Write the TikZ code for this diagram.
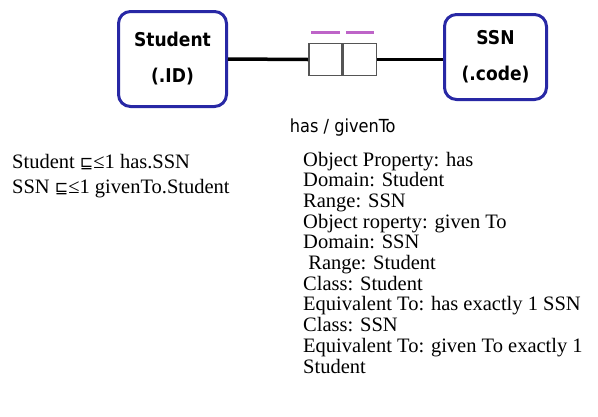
\documentclass[tikz,border=0pt]{standalone}
\usepackage{fontspec}
\setmainfont{Liberation Serif}
\newfontfamily\boxfont{DejaVu Sans Condensed}
\newfontfamily\symfont{DejaVu Sans}
\usetikzlibrary{positioning}
\definecolor{classblue}{RGB}{40,40,165}
\definecolor{rolegray}{RGB}{85,85,85}
\definecolor{markpink}{RGB}{190,100,200}
\newcommand{\subs}{{\symfont\fontsize{16}{16}\selectfont ⊑}}

\begin{document}
\begin{tikzpicture}[x=1pt, y=-1pt,
    classbox/.style={draw=classblue, line width=3pt, rounded corners=12pt, fill=white,
      align=center, inner sep=0pt, font=\boxfont\bfseries\fontsize{19}{36}\selectfont},
    rolebox/.style={draw=rolegray, line width=1.6pt, fill=white, minimum width=33pt,
      minimum height=32pt, inner sep=0pt},
    link/.style={line width=3.5pt},
    rolemark/.style={markpink, line width=3pt},
    deftext/.style={anchor=base west, inner sep=0pt, font=\fontsize{20.5}{20.7}\selectfont}]
  \useasboundingbox (0,0) rectangle (598,416);
  % entity boxes
  \node [classbox, minimum width=108pt, minimum height=95pt] at (172.5,59) (student) {Student\\(.ID)};
  \node [classbox, minimum width=102pt, minimum height=85pt] at (495.5,57) (ssn) {SSN\\(.code)};
  % role box
  \node [rolebox] at (325.5,59.5) (roleA) {};
  \node [rolebox, right=0pt of roleA] (roleB) {};
  \draw [rolemark] ([xshift=3pt, yshift=10pt]roleA.north west) -- ([xshift=-3pt, yshift=10pt]roleA.north east);
  \draw [rolemark] ([xshift=3pt, yshift=10pt]roleB.north west) -- ([xshift=-3pt, yshift=10pt]roleB.north east);
  \draw [link] (student.east) -- (roleA.west);
  \draw [link] (roleB.east) -- (roleB.east -| ssn.west);
  \node [below=42pt of roleA.south east, font=\boxfont\fontsize{18}{18}\selectfont, inner sep=0pt] (rolename) {has / givenTo};
  % axioms
  \node [deftext] at (12,168) (ax1) {Student \subs≤1 has.SSN};
  \node [deftext] at (12,193) (ax2) {SSN \subs≤1 givenTo.Student};
  % owl text
  \foreach \txt [count=\i] in {Object Property: has, Domain: Student, Range: SSN,
      Object roperty: given To, Domain: SSN, \ Range: Student, Class: Student,
      Equivalent To: has exactly 1 SSN, Class: SSN,
      Equivalent To: given To exactly 1, Student}
    \node [deftext] at (303,{166+20.7*(\i-1)}) (owl\i) {\txt};
\end{tikzpicture}
\end{document}
